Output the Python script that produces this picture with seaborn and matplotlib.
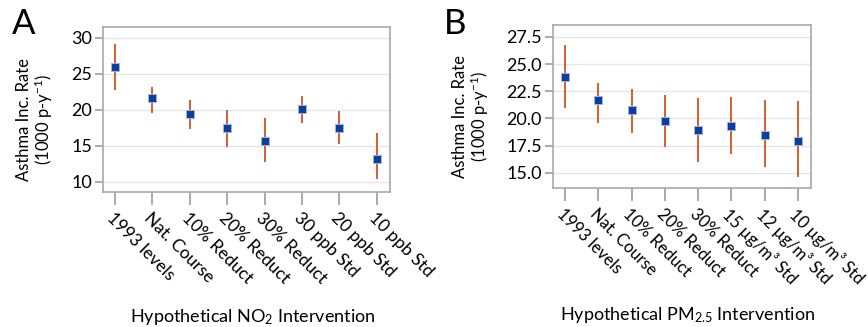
import matplotlib
matplotlib.use("Agg")
import matplotlib.pyplot as plt
import seaborn as sns
import pandas as pd

# panel A: NO2 interventions
no2_labels = ["1993 levels", "Nat. Course", "10% Reduct", "20% Reduct",
              "30% Reduct", "30 ppb Std", "20 ppb Std", "10 ppb Std"]
no2_rate = [25.9, 21.7, 19.45, 17.5, 15.7, 20.15, 17.5, 13.2]
no2_low = [22.8, 19.5, 17.3, 14.9, 12.8, 18.15, 15.2, 10.45]
no2_high = [29.2, 23.2, 21.4, 20.0, 18.85, 21.9, 19.85, 16.8]

# panel B: PM2.5 interventions
pm_labels = ["1993 levels", "Nat. Course", "10% Reduct", "20% Reduct",
             "30% Reduct", "15 \u00b5g/m\u00b3 Std", "12 \u00b5g/m\u00b3 Std",
             "10 \u00b5g/m\u00b3 Std"]
pm_rate = [23.85, 21.7, 20.75, 19.8, 18.95, 19.35, 18.5, 17.9]
pm_low = [20.95, 19.6, 18.7, 17.35, 16.0, 16.75, 15.5, 14.65]
pm_high = [26.8, 23.3, 22.7, 22.2, 21.9, 21.95, 21.7, 21.65]

sns.set_theme(style="white")
plt.rcParams["font.family"] = ["Lato", "DejaVu Sans"]
plt.rcParams["mathtext.fontset"] = "custom"
plt.rcParams["mathtext.rm"] = "Lato"
plt.rcParams["mathtext.it"] = "Lato:italic"
plt.rcParams["text.color"] = "black"
plt.rcParams["xtick.labelcolor"] = "black"
plt.rcParams["ytick.labelcolor"] = "black"
plt.rcParams["axes.labelcolor"] = "black"

fig = plt.figure(figsize=(8.68, 3.27), dpi=100)
ax_a = fig.add_axes([0.1187, 0.4128, 0.3306, 0.5046])
ax_b = fig.add_axes([0.6371, 0.4250, 0.2972, 0.4985])

bar_col = "#d2521e"
sq_col = "#0a3ea0"


def panel(ax, labels, rate, low, high, yticks, ylim, xlim, xfs):
    df = pd.DataFrame({"x": range(len(labels)), "rate": rate,
                       "low": low, "high": high})
    ax.vlines(df["x"], df["low"], df["high"], color=bar_col, lw=1.3, zorder=2)
    sns.scatterplot(data=df, x="x", y="rate", ax=ax, marker="s", s=36,
                    color=sq_col, edgecolor="#9fb3dc", linewidth=0.7,
                    zorder=3, legend=False)
    ax.set_xlim(*xlim)
    ax.set_ylim(*ylim)
    ax.set_yticks(yticks)
    ax.set_xticks(range(len(labels)))
    ax.set_xticklabels(labels, rotation=-45, ha="left", va="top",
                       rotation_mode="anchor", fontsize=xfs)
    ax.tick_params(axis="y", labelsize=13, length=6, color="#a0a0a0",
                   direction="out", left=True, pad=2)
    ax.tick_params(axis="x", length=9, color="#a0a0a0", direction="out",
                   bottom=True, pad=4)
    ax.yaxis.grid(True, color="#e6e6e6", lw=1)
    ax.set_axisbelow(True)
    for s in ax.spines.values():
        s.set_color("#a8a8a8")
        s.set_linewidth(1.2)
    ax.set_xlabel("")
    ax.set_ylabel("Asthma Inc. Rate\n(1000 p-y$^{-1}$)", fontsize=12,
                  linespacing=1.05)


panel(ax_a, no2_labels, no2_rate, no2_low, no2_high,
      [10, 15, 20, 25, 30], (8.6, 31.5), (-0.32, 7.35), 12.5)
ax_a.set_yticklabels(["10", "15", "20", "25", "30"])
ax_a.yaxis.set_label_coords(-0.167, 0.44)

panel(ax_b, pm_labels, pm_rate, pm_low, pm_high,
      [15.0, 17.5, 20.0, 22.5, 25.0, 27.5], (13.6, 28.6), (-0.36, 7.39), 12)
ax_b.set_yticklabels(["15.0", "17.5", "20.0", "22.5", "25.0", "27.5"])
ax_b.yaxis.set_label_coords(-0.24, 0.44)

fig.text(253 / 868, 1 - 317 / 327, "Hypothetical NO$_2$ Intervention",
         ha="center", va="center", fontsize=13)
fig.text(688 / 868, 1 - 315 / 327, "Hypothetical PM$_{2.5}$ Intervention",
         ha="center", va="center", fontsize=13)
fig.text(12 / 868, 1 - 24 / 327, "A", fontsize=25, ha="left", va="center")
fig.text(444 / 868, 1 - 24 / 327, "B", fontsize=25, ha="left", va="center")

fig.savefig("out.png", dpi=100)
